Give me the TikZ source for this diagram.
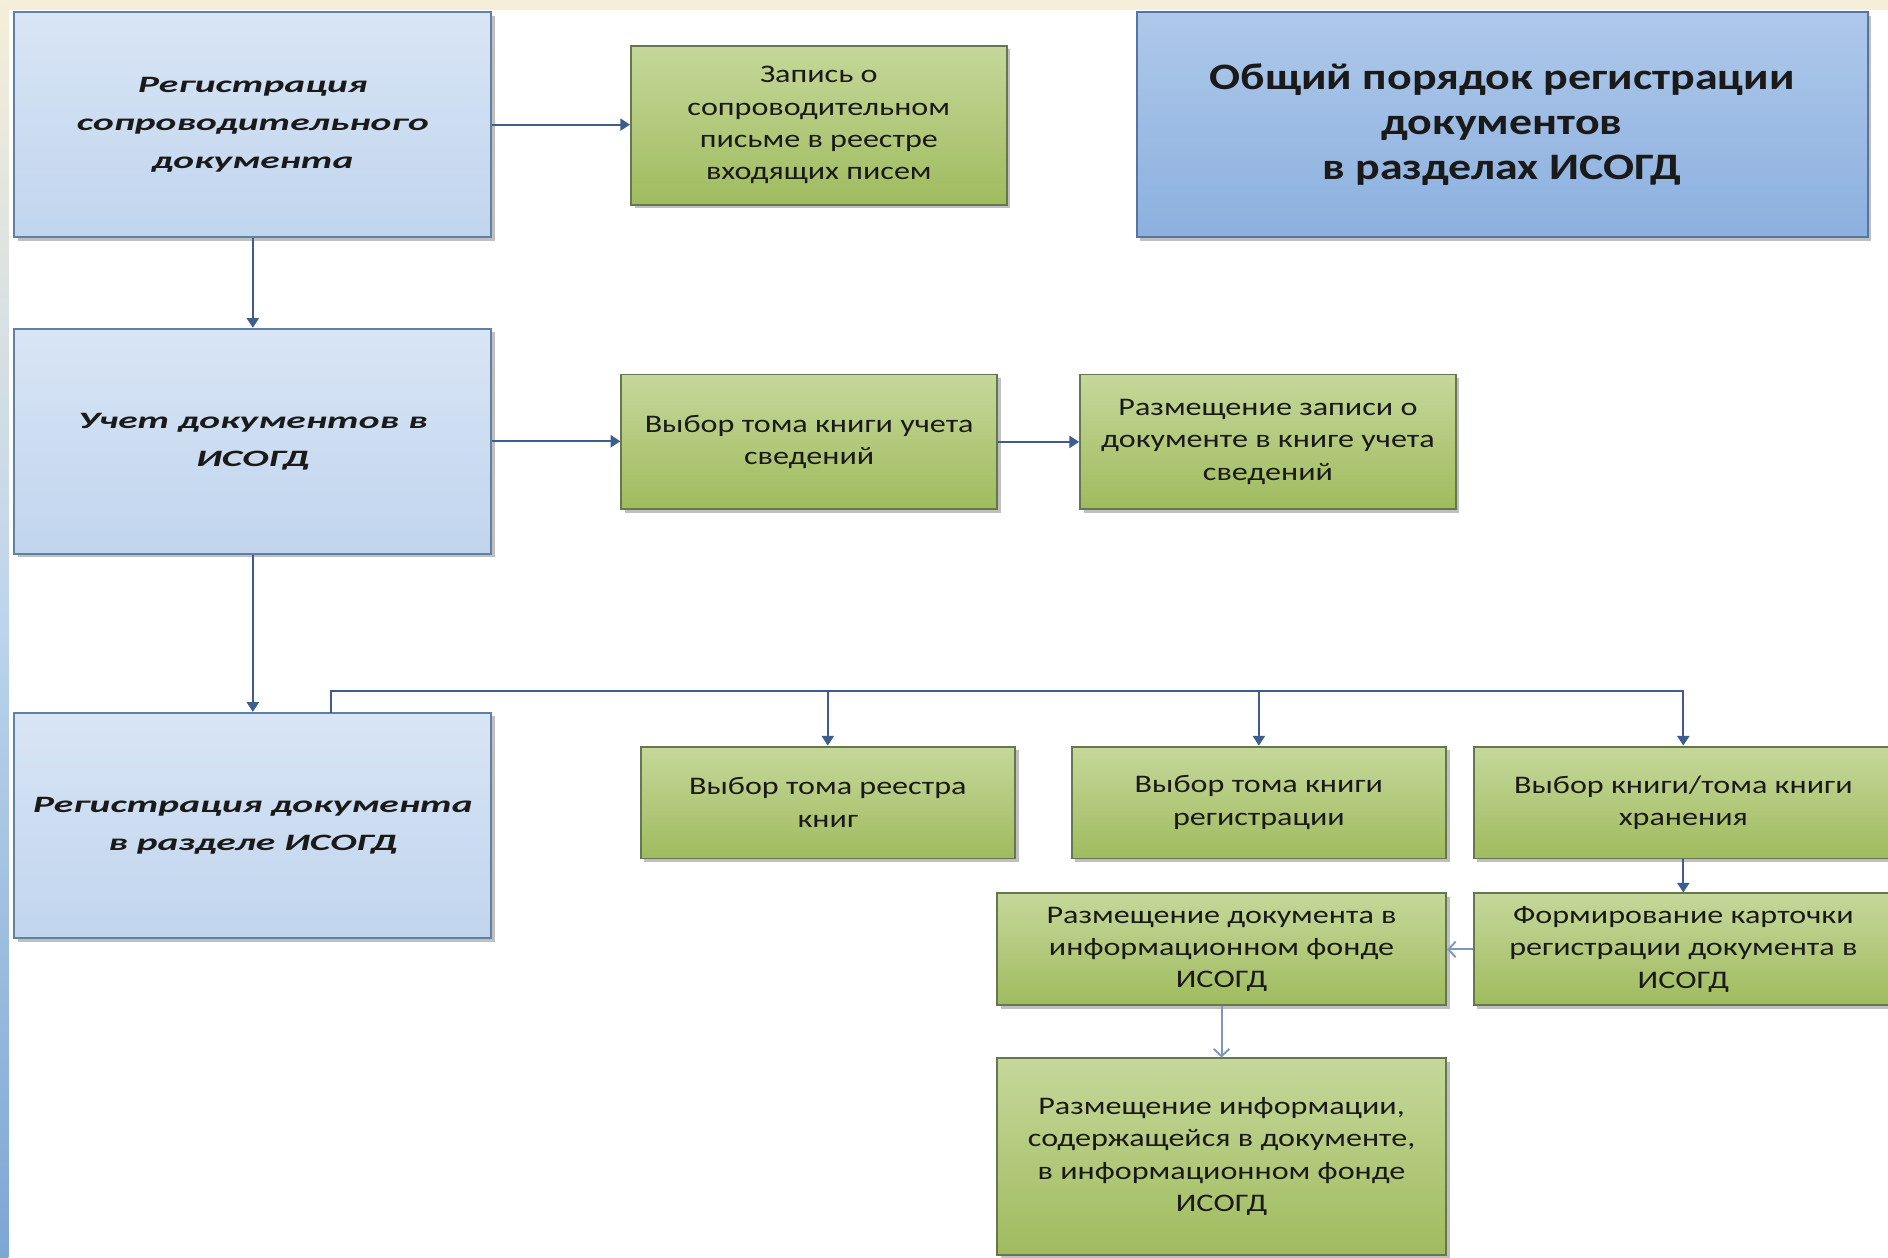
\documentclass[tikz,border=0pt]{standalone}
\usepackage{fontspec}
\setmainfont{Carlito}
\newfontfamily\gfont[FakeStretch=1.27]{Carlito}
\newfontfamily\tfont[FakeStretch=1.23]{Carlito}
\newfontfamily\bfont[FakeStretch=1.68]{Carlito}
\usetikzlibrary{arrows.meta,shadows}
\definecolor{cream}{HTML}{F5EED8}
\definecolor{stripblue}{HTML}{BCD4EC}
\definecolor{stripdark}{HTML}{7EA6D4}
\definecolor{bluetop}{HTML}{D8E5F5}
\definecolor{bluebot}{HTML}{C1D5EE}
\definecolor{blueedge}{HTML}{62809F}
\definecolor{ttop}{HTML}{AEC8EA}
\definecolor{tbot}{HTML}{8CB0DF}
\definecolor{tedge}{HTML}{5774A0}
\definecolor{gtop}{HTML}{C5D89A}
\definecolor{gbot}{HTML}{A0BB5E}
\definecolor{gedge}{HTML}{66764F}
\definecolor{arrcol}{HTML}{3D5D8E}
\definecolor{openarr}{HTML}{7F97C0}
\definecolor{txt}{HTML}{1A1A1A}
\tikzset{
  shadowed/.style={drop shadow={shadow xshift=3pt,shadow yshift=-3pt,opacity=0.45,fill=black!55}},
  bluebox/.style={draw=blueedge,line width=1.6pt,top color=bluetop,bottom color=bluebot,
    minimum width=396pt,minimum height=187pt,inner sep=0pt,align=center,shadowed,text=txt,
    font=\bfont\bfseries\itshape\fontsize{19.5}{31.5}\selectfont},
  titlebox/.style={draw=tedge,line width=1.6pt,top color=ttop,bottom color=tbot,
    minimum width=607pt,minimum height=187pt,inner sep=0pt,align=center,shadowed,text=txt,
    font=\tfont\bfseries\fontsize{31}{37}\selectfont},
  greenbox/.style={draw=gedge,line width=1.6pt,top color=gtop,bottom color=gbot,
    inner sep=0pt,align=center,shadowed,text=txt,
    font=\gfont\fontsize{21}{26.8}\selectfont},
  arr/.style={draw=arrcol,line width=1.6pt,-{Triangle[width=10pt,length=8pt]}},
  oarr/.style={draw=openarr,line width=1.6pt,-{Straight Barb[width=13pt,length=6pt]}}
}
\begin{document}
\begin{tikzpicture}[x=1pt,y=-1pt]
\useasboundingbox (0,0) rectangle (1568,1044);
\clip (0,0) rectangle (1568,1044);
\fill[white] (0,0) rectangle (1568,1044);
\fill[cream] (0,0) rectangle (1568,8);
\shade[top color=cream,bottom color=stripdark,middle color=stripblue] (0,0) rectangle (7,1044);

% left column
\node[bluebox] (b1) at (210,103.5) {Регистрация\\сопроводительного\\документа};
\node[bluebox] (b2) at (210,366.5) {Учет документов в\\ИСОГД};
\node[bluebox] (b3) at (210,685.5) {Регистрация документа\\в разделе ИСОГД};

% title
\node[titlebox] (t) at (1247.5,103.5) {Общий порядок регистрации\\документов\\в разделах ИСОГД};

% green boxes
\node[greenbox,minimum width=312pt,minimum height=132pt] (a) at (680,104)
  {Запись о\\сопроводительном\\письме в реестре\\входящих писем};
\node[greenbox,minimum width=312pt,minimum height=112pt] (bb) at (672,367)
  {Выбор тома книги учета\\сведений};
\node[greenbox,minimum width=312pt,minimum height=112pt] (c) at (1053,367)
  {Размещение записи о\\документе в книге учета\\сведений};
\node[greenbox,minimum width=311pt,minimum height=93pt] (d) at (687.5,666.5)
  {Выбор тома реестра\\книг};
\node[greenbox,minimum width=311pt,minimum height=93pt] (e) at (1045.5,666.5)
  {Выбор тома книги\\регистрации};
\node[greenbox,minimum width=348pt,minimum height=93pt] (f) at (1398,666.5)
  {Выбор книги/тома книги\\хранения};
\node[greenbox,minimum width=348pt,minimum height=93pt] (g) at (1398,788.5)
  {Формирование карточки\\регистрации документа в\\ИСОГД};
\node[greenbox,minimum width=373pt,minimum height=93pt] (h) at (1014.5,788.5)
  {Размещение документа в\\информационном фонде\\ИСОГД};
\node[greenbox,minimum width=373pt,minimum height=163pt] (i) at (1014.5,960.5)
  {Размещение информации,\\содержащейся в документе,\\в информационном фонде\\ИСОГД};

% connectors
\draw[arr] (b1.east) -- (b1.east -| a.west);
\draw[arr] (b1.south) -- (b2.north);
\draw[arr] (b2.east) -- (b2.east -| bb.west);
\draw[arr] (bb.east) -- (bb.east -| c.west);
\draw[arr] (b2.south) -- (b3.north);
\coordinate (bus0) at (275,592);
\coordinate (busy) at (0,574);
\draw[arr] (bus0) |- (f.north |- busy) -- (f.north);
\draw[arr] (d.north |- busy) -- (d.north);
\draw[arr] (e.north |- busy) -- (e.north);
\draw[arr] (f.south) -- (g.north);
\draw[oarr] (g.west) -- (h.east);
\draw[oarr] (h.south) -- (i.north);
\end{tikzpicture}
\end{document}
